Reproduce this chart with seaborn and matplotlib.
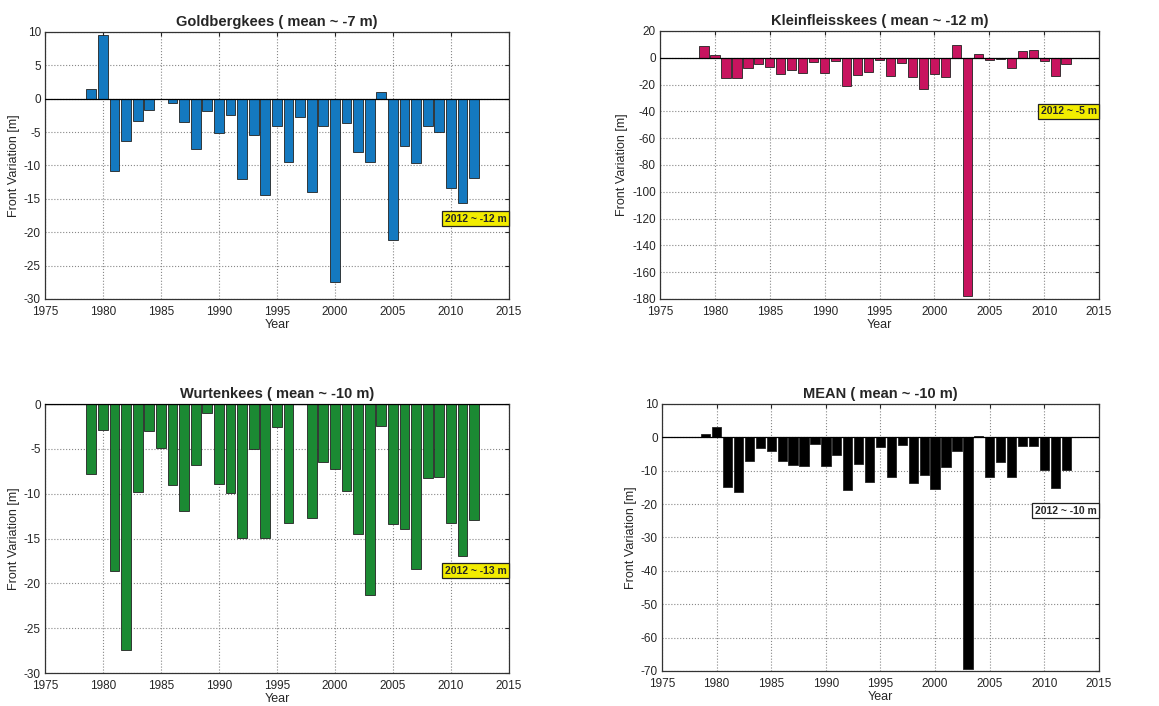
import numpy as np
import pandas as pd
import matplotlib.pyplot as plt
import seaborn as sns

# Yearly front variation (m)
years = list(range(1979, 2013))

goldberg = [1.4, 9.6, -10.8, -6.3, -3.3, -1.7, 0.0, -0.65, -3.5, -7.6,
            -1.9, -5.1, -2.5, -12.0, -5.4, -14.4, -4.1, -9.5, -2.7, -13.9,
            -4.1, -27.5, -3.6, -8.0, -9.5, 0.95, -21.2, -7.1, -9.7, -4.1,
            -5.0, -13.3, -15.6, -11.8]

kleinfleiss = [9.0, 2.0, -15.0, -15.0, -7.5, -5.0, -7.0, -12.0, -9.0, -11.5,
               -3.2, -11.5, -2.5, -21.0, -12.7, -10.7, -2.0, -13.4, -4.0, -14.4,
               -23.4, -12.2, -14.0, 9.4, -177.4, 2.5, -1.5, -0.7, -7.7, 5.0,
               5.7, -2.5, -13.4, -4.7]

wurten = [-7.85, -2.9, -18.6, -27.4, -9.8, -3.0, -4.9, -9.0, -11.9, -6.85,
          -1.0, -8.9, -9.9, -14.9, -5.0, -14.9, -2.6, -13.3, 0.0, -12.7,
          -6.5, -7.2, -9.7, -14.5, -21.25, -2.4, -13.4, -13.9, -18.4, -8.3,
          -8.15, -13.3, -16.9, -12.9]

mean_all = [0.9, 3.0, -14.9, -16.4, -7.0, -3.2, -4.0, -7.0, -8.2, -8.6,
            -2.1, -8.6, -5.2, -15.9, -7.9, -13.4, -3.0, -12.0, -2.3, -13.8,
            -11.4, -15.6, -9.0, -4.2, -69.5, 0.4, -12.0, -7.3, -12.0, -2.5,
            -2.5, -9.8, -15.3, -9.8]

titles = ['Goldbergkees ( mean ~ -7 m)', 'Kleinfleisskees ( mean ~ -12 m)',
          'Wurtenkees ( mean ~ -10 m)', 'MEAN ( mean ~ -10 m)']
notes = ['2012 ~ -12 m', '2012 ~ -5 m', '2012 ~ -13 m', '2012 ~ -10 m']
series = [goldberg, kleinfleiss, wurten, mean_all]
colors = ['#1479c0', '#c8145f', '#1b8a33', '#000000']
note_colors = ['#f2ec00', '#f2ec00', '#f2ec00', '#ffffff']
note_y = [0.30, 0.70, 0.38, 0.60]
ylims = [(-30, 10), (-180, 20), (-30, 0), (-70, 10)]
ysteps = [5, 20, 5, 10]

sns.set_style('white')
plt.rcParams['font.family'] = ['Liberation Sans', 'DejaVu Sans']
plt.rcParams['axes.unicode_minus'] = False

fig = plt.figure(figsize=(11.59, 7.06), dpi=100)
positions = [
    [0.0388, 0.5765, 0.4003, 0.3782],
    [0.5695, 0.5765, 0.3788, 0.3796],
    [0.0388, 0.0467, 0.4003, 0.3810],
    [0.5712, 0.0496, 0.3770, 0.3782],
]

for i in range(4):
    ax = fig.add_axes(positions[i])
    df = pd.DataFrame({'Year': years, 'Value': series[i]})
    sns.barplot(data=df, x='Year', y='Value', native_scale=True, width=0.85,
                color=colors[i], saturation=1, edgecolor='#222222',
                linewidth=0.6, ax=ax, zorder=3)
    ax.axhline(0, color='black', linewidth=0.9, zorder=4)
    ax.set_xlim(1975, 2015)
    ax.set_ylim(*ylims[i])
    ax.set_xticks(np.arange(1975, 2016, 5))
    ax.set_yticks(np.arange(ylims[i][0], ylims[i][1] + 1, ysteps[i]))
    ax.grid(True, linestyle=':', color='#888888', linewidth=0.8, zorder=0)
    ax.set_axisbelow(True)
    ax.tick_params(direction='in', top=True, right=True, labelsize=8.5,
                   length=3)
    ax.tick_params(axis='x', pad=5)
    ax.tick_params(axis='y', pad=3)
    for s in ax.spines.values():
        s.set_color('#333333')
        s.set_linewidth(0.9)
    ax.set_title(titles[i], fontsize=10.5, fontweight='bold', pad=4)
    ax.set_xlabel('Year', fontsize=9, labelpad=1)
    ax.set_ylabel('Front Variation [m]', fontsize=9, labelpad=3)
    ax.text(0.995, note_y[i], notes[i], transform=ax.transAxes, ha='right',
            va='center', fontsize=7.5, fontweight='bold', zorder=6,
            bbox=dict(facecolor=note_colors[i], edgecolor='#222222',
                      boxstyle='square,pad=0.25', linewidth=0.9))

fig.savefig('out.png', dpi=100)
